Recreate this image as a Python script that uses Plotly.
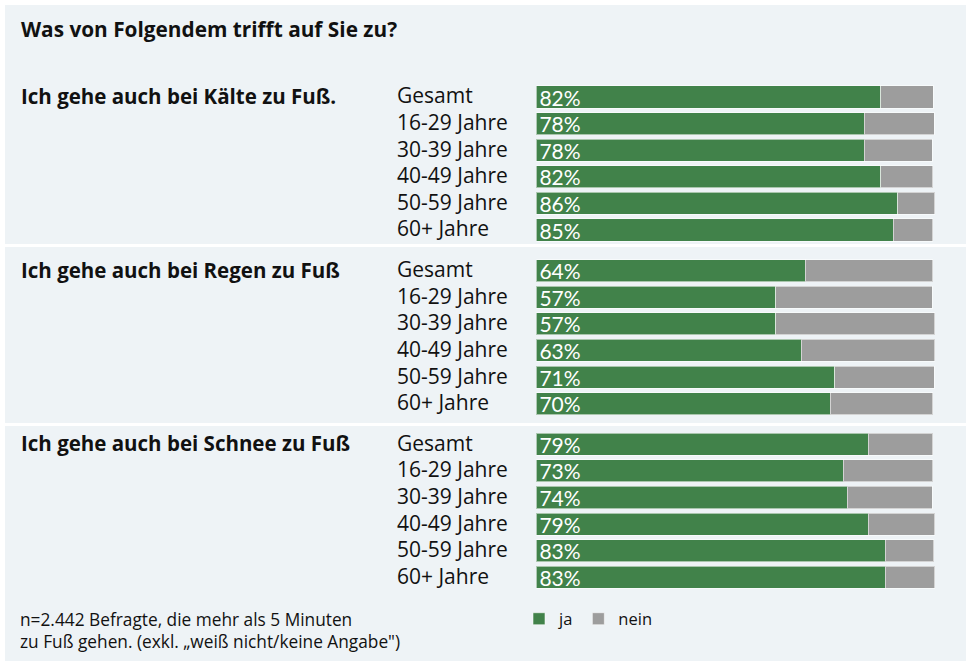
import plotly.graph_objects as go

# ---------------- data ----------------
title_text = "Was von Folgendem trifft auf Sie zu?"
groups = ["Ich gehe auch bei Kälte zu Fuß.",
          "Ich gehe auch bei Regen zu Fuß",
          "Ich gehe auch bei Schnee zu Fuß"]
ages = ["Gesamt", "16-29 Jahre", "30-39 Jahre", "40-49 Jahre", "50-59 Jahre", "60+ Jahre"]

ja_kaelte = [82, 78, 78, 82, 86, 85]
nein_kaelte = [12.5, 16.7, 16.2, 12.4, 8.8, 9.4]
ja_regen = [64, 57, 57, 63, 71, 70]
nein_regen = [30.4, 37.3, 37.8, 31.8, 23.7, 24.4]
ja_schnee = [79, 73, 74, 79, 83, 83]
nein_schnee = [15.4, 21.4, 20.3, 15.8, 11.6, 11.8]

series_names = ["ja", "nein"]
footnote = ["n=2.442 Befragte, die mehr als 5 Minuten",
            "zu Fuß gehen. (exkl. „weiß nicht/keine Angabe\")"]

ja_all = [ja_kaelte, ja_regen, ja_schnee]
nein_all = [nein_kaelte, nein_regen, nein_schnee]

# ---------------- style / layout ----------------
W, H = 971, 666
FONT = "Open Sans"
NUMFONT = "Lato"
GREEN = "#41824a"
GREY = "#9d9d9d"
PANEL = "#eef3f6"
TXT = "#111111"

first_slot_top = 83.7
group_pitch = 173.65
slot_h = 26.6
x_left, x_right = 536.4, 956.4

fig = go.Figure()

layout_axes = {}
for g in range(3):
    ax = "" if g == 0 else str(g + 1)
    top = first_slot_top + group_pitch * g
    bottom = top + slot_h * len(ages)
    layout_axes["yaxis" + ax] = dict(
        domain=[1 - bottom / H, 1 - top / H], type="category",
        categoryorder="array", categoryarray=ages,
        range=[len(ages) - 0.5, -0.5], showticklabels=False,
        showgrid=False, zeroline=False, showline=False, anchor="x" + ax, fixedrange=True)
    layout_axes["xaxis" + ax] = dict(
        domain=[x_left / W, x_right / W], range=[0, 100], visible=False,
        anchor="y" + ax, fixedrange=True)

    fig.add_trace(go.Bar(
        y=ages, x=ja_all[g], orientation="h", name=series_names[0],
        marker=dict(color=GREEN, line=dict(color="rgba(255,255,255,0.55)", width=1)),
        text=[f"{v}%" for v in ja_all[g]], textposition="inside",
        insidetextanchor="start", constraintext="none",
        textfont=dict(family=NUMFONT, size=21, color="white"),
        width=0.83, xaxis="x" + ax, yaxis="y" + ax,
        showlegend=(g == 0), legendgroup="ja", hoverinfo="skip"))
    fig.add_trace(go.Bar(
        y=ages, x=nein_all[g], orientation="h", name=series_names[1],
        marker=dict(color=GREY, line=dict(color="rgba(255,255,255,0.55)", width=1)),
        width=0.83, xaxis="x" + ax, yaxis="y" + ax,
        showlegend=(g == 0), legendgroup="nein", hoverinfo="skip"))

annotations = []
annotations.append(dict(text=title_text, x=19 / W, y=1 - 29 / H, xref="paper", yref="paper",
                        xanchor="left", yanchor="middle", showarrow=False,
                        font=dict(family=FONT, size=20.8, color=TXT, weight="bold")))
for g in range(3):
    ax = "" if g == 0 else str(g + 1)
    annotations.append(dict(text=groups[g], x=19 / W, y=ages[0], xref="paper", yref="y" + ax,
                            xanchor="left", yanchor="middle", showarrow=False, yshift=1,
                            font=dict(family=FONT, size=20.5, color=TXT, weight="bold")))
    for a in ages:
        annotations.append(dict(text=a, x=395 / W, y=a, xref="paper", yref="y" + ax,
                                xanchor="left", yanchor="middle", showarrow=False, yshift=1.5,
                                font=dict(family=FONT, size=21, color=TXT)))
for i, line in enumerate(footnote):
    annotations.append(dict(text=line, x=18 / W, y=1 - (619 + 22 * i) / H, xref="paper", yref="paper",
                            xanchor="left", yanchor="middle", showarrow=False,
                            font=dict(family=FONT, size=17.3, color=TXT)))

shapes = [
    dict(type="rect", xref="paper", yref="paper", x0=5 / W, x1=966 / W, y0=1 - 661 / H, y1=1 - 5 / H,
         fillcolor=PANEL, line=dict(width=0), layer="below"),
]
for py in [245.5, 424.5]:
    shapes.append(dict(type="line", xref="paper", yref="paper", x0=5 / W, x1=966 / W,
                       y0=1 - py / H, y1=1 - py / H, line=dict(color="white", width=3), layer="below"))

fig.update_layout(
    width=W, height=H, margin=dict(l=0, r=0, t=0, b=0),
    paper_bgcolor="white", plot_bgcolor="rgba(0,0,0,0)",
    barmode="stack", bargap=0.17,
    font=dict(family=FONT, color=TXT),
    annotations=annotations, shapes=shapes,
    legend=dict(orientation="h", x=519 / W, y=1 - 619 / H, xanchor="left", yanchor="middle",
                bgcolor="rgba(0,0,0,0)", font=dict(family=FONT, size=16.5, color=TXT),
                traceorder="normal", itemwidth=30, tracegroupgap=0),
    **layout_axes,
)

fig.write_html("out.html", config={"displayModeBar": False},
               post_script="document.body.style.margin='0';")
